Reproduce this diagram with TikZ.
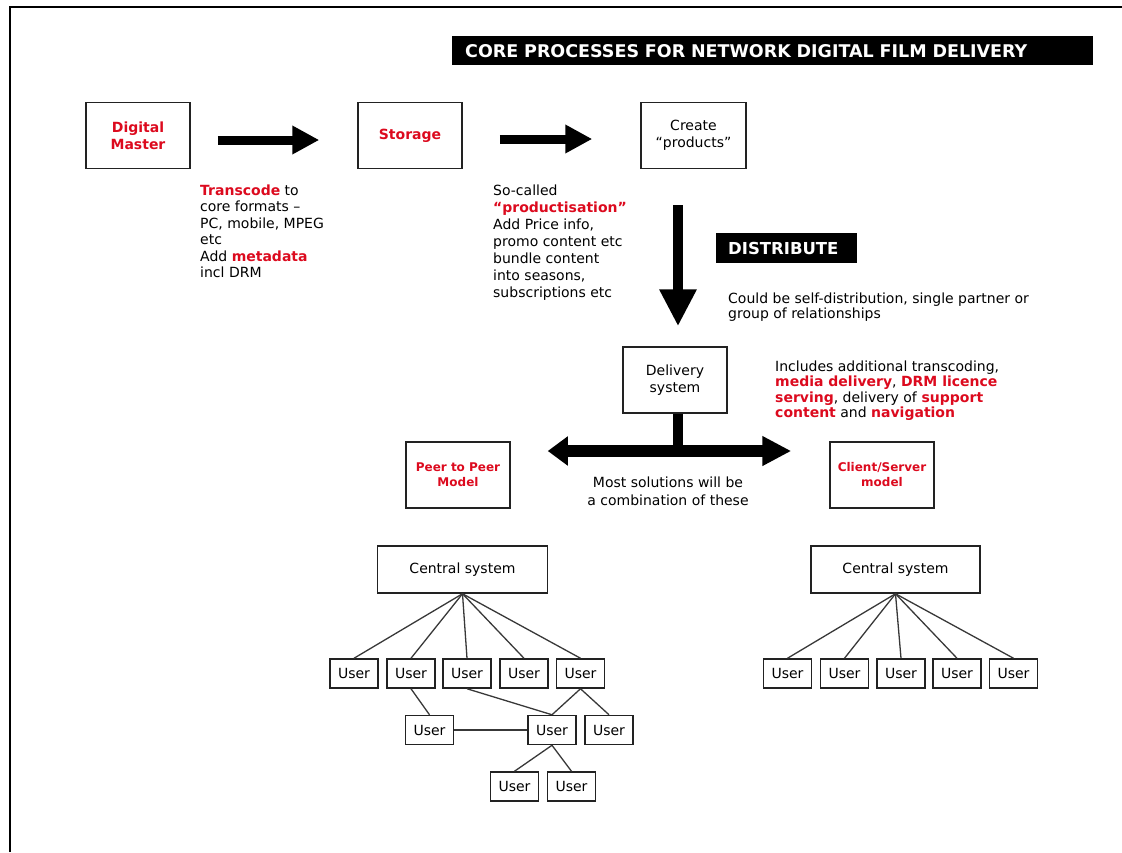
\documentclass[tikz,border=0pt]{standalone}
\usepackage{fontspec}
\setmainfont{DejaVu Sans}
\usepackage{tikz}
\usetikzlibrary{calc}
\usetikzlibrary{arrows.meta}
\usepackage{xcolor}
\definecolor{R0}{HTML}{DC0A1E}
\definecolor{K0}{HTML}{222222}
\newcommand{\hot}[1]{\textbf{\color{R0}#1}}
\tikzset{box/.style={draw=K0,line width=1.5pt,inner sep=0pt,minimum width=104pt,minimum height=66pt,align=center,font=\fontsize{14}{17}\selectfont}}
\tikzset{user/.style={draw=K0,line width=1.5pt,inner sep=0pt,minimum width=48pt,minimum height=29pt,font=\fontsize{14}{14}\selectfont}}
\tikzset{hub/.style={draw=K0,line width=1.5pt,inner sep=0pt,minimum width=170pt,minimum height=47pt,font=\fontsize{14}{14}\selectfont}}
\tikzset{note/.style={inner sep=0pt,align=left,font=\fontsize{14}{16.5}\selectfont}}
\tikzset{banner/.style={fill=black,text=white,inner sep=0pt,align=left,anchor=north west}}
\tikzset{fat/.style={line width=9pt,-{Triangle[length=27pt,width=27pt]}}}
\tikzset{link/.style={line width=1.3pt,draw=K0!90}}

\begin{document}
\begin{tikzpicture}[x=1pt,y=-1pt]
\useasboundingbox (0,0) rectangle (1122,852);
\draw[line width=2pt] (10,852) -- (10,6.7) -- (1122,6.7);

\node[banner,font=\bfseries\fontsize{17.5}{17.5}\selectfont,minimum height=29pt,inner xsep=13pt,text width=615pt] (title) at (452,36) {CORE PROCESSES FOR NETWORK DIGITAL FILM DELIVERY};

\node[box] (dm) at (138,135.5) {\hot{Digital}\\\hot{Master}};
\node[box] (st) at (410,135.5) {\hot{Storage}};
\node[box,minimum width=105pt] (cp) at (693.5,135.5) {Create\\“products”};

\draw[fat,shorten <=27pt,shorten >=38pt] ([yshift=-4.5pt]dm.east) -- ([yshift=-4.5pt]st.west);
\draw[fat,shorten <=37pt,shorten >=48pt] ([yshift=-3.5pt]st.east) -- ([yshift=-3.5pt]cp.west);

\node[note,anchor=north west] (tc) at (200,184.5) {\hot{Transcode} to\\core formats –\\PC, mobile, MPEG\\etc\\Add \hot{metadata}\\incl DRM};
\node[note,anchor=north west,font=\fontsize{14}{17}\selectfont] (pr) at (493,184.5) {So-called\\\hot{“productisation”}\\Add Price info,\\promo content etc\\bundle content\\into seasons,\\subscriptions etc};

\node[banner,font=\bfseries\fontsize{16.5}{16.5}\selectfont,minimum height=30pt,inner xsep=12pt,text width=117pt] (dist) at (716,233) {DISTRIBUTE};
\node[note,anchor=north west,font=\fontsize{14}{15}\selectfont] (cb) at (728,292.5) {Could be self-distribution, single partner or\\group of relationships};

\node[box] (dl) at (675,380) {Delivery\\system};
\coordinate (dtop) at (678,205);
\draw[line width=10pt,-{Triangle[length=37pt,width=35pt]},shorten >=20pt] (dtop) -- (dtop |- dl.north);

\node[note,anchor=north west,font=\fontsize{14}{15.5}\selectfont] (inc) at (775,360.5) {Includes additional transcoding,\\\hot{media delivery}, \hot{DRM licence}\\\hot{serving}, delivery of \hot{support}\\\hot{content} and \hot{navigation}};

\node[box,font=\bfseries\fontsize{12}{15}\selectfont,text=R0] (pp) at (458,475) {Peer to Peer\\Model};
\node[box,font=\bfseries\fontsize{12}{15}\selectfont,text=R0] (cs) at (882,475) {Client/Server\\model};

\coordinate (fork) at (678,451);
\draw[line width=10pt] (dl.south -| fork) -- (fork);
\draw[line width=12pt,-{Triangle[length=20pt,width=28pt]},shorten >=37pt] (fork) -- (fork -| pp.east);
\draw[line width=12pt,-{Triangle[length=29pt,width=28pt]},shorten >=38pt] (fork) -- (fork -| cs.west);

\node[note,anchor=north,align=center,font=\fontsize{14}{18}\selectfont] (ms) at (668,476.5) {Most solutions will be\\a combination of these};

\node[hub] (c1) at (462.5,569.5) {Central system};
\node[user] (u1) at (354,673.5) {User};
\node[user] (u2) at (411,673.5) {User};
\node[user] (u3) at (467,673.5) {User};
\node[user] (u4) at (524,673.5) {User};
\node[user] (u5) at (580.5,673.5) {User};
\node[user] (u6) at (429.5,730) {User};
\node[user] (u7) at (552,730) {User};
\node[user] (u8) at (609,730) {User};
\node[user] (u9) at (514.5,786.5) {User};
\node[user] (u10) at (571.5,786.5) {User};

\draw[link] (c1.south) -- (u1.north);
\draw[link] (c1.south) -- (u2.north);
\draw[link] (c1.south) -- (u3.north);
\draw[link] (c1.south) -- (u4.north);
\draw[link] (c1.south) -- (u5.north);
\draw[link] (u2.south) -- (u6.north);
\draw[link] (u3.south) -- (u7.north);
\draw[link] (u5.south) -- (u7.north);
\draw[link] (u5.south) -- (u8.north);
\draw[link] (u6.east) -- (u7.west);
\draw[link] (u7.south) -- (u9.north);
\draw[link] (u7.south) -- (u10.north);

\node[hub,minimum width=169pt] (c2) at (895.5,569.5) {Central system};
\node[user] (u11) at (787.5,673.5) {User};
\node[user] (u12) at (844.5,673.5) {User};
\node[user] (u13) at (901,673.5) {User};
\node[user] (u14) at (957,673.5) {User};
\node[user] (u15) at (1013.5,673.5) {User};

\draw[link] (c2.south) -- (u11.north);
\draw[link] (c2.south) -- (u12.north);
\draw[link] (c2.south) -- (u13.north);
\draw[link] (c2.south) -- (u14.north);
\draw[link] (c2.south) -- (u15.north);

\end{tikzpicture}
\end{document}
